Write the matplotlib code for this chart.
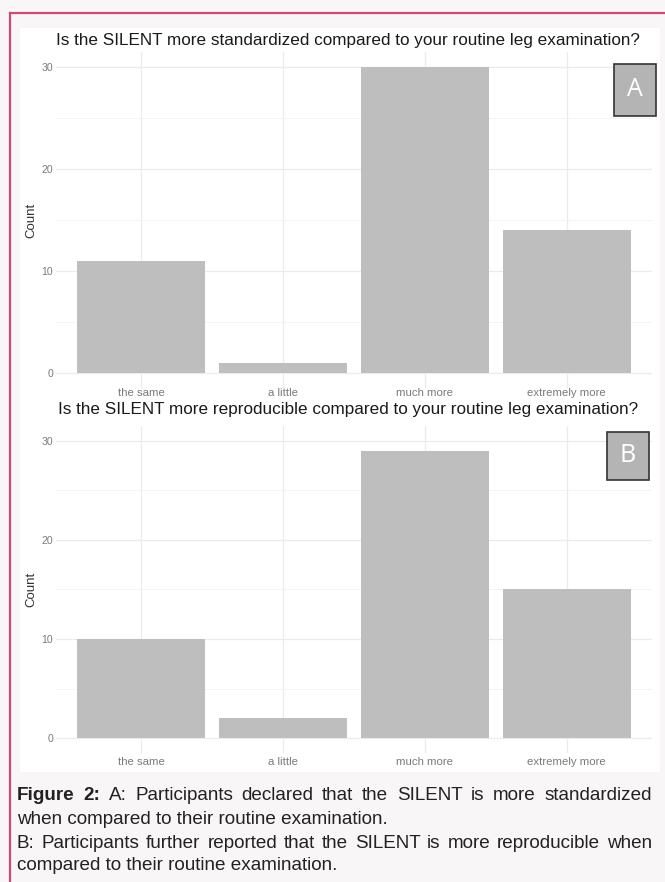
import matplotlib
matplotlib.use("Agg")
import matplotlib.pyplot as plt
from matplotlib.patches import Rectangle
from matplotlib.lines import Line2D

categories = ["the same", "a little", "much more", "extremely more"]
standardized = [11, 1, 30, 14]
reproducible = [10, 2, 29, 15]

titles = [
    "Is the SILENT more standardized compared to your routine leg examination?",
    "Is the SILENT more reproducible compared to your routine leg examination?",
]
panel_tags = ["A", "B"]

caption_lines = [
    ("Figure 2:", "A: Participants declared that the SILENT is more standardized", True),
    ("", "when compared to their routine examination.", False),
    ("", "B: Participants further reported that the SILENT is more reproducible when", True),
    ("", "compared to their routine examination.", False),
]

W, H = 665, 882
plt.rcParams["font.family"] = ["Liberation Sans", "DejaVu Sans"]

fig = plt.figure(figsize=(W / 100, H / 100), dpi=100)
fig.patch.set_facecolor("#f8f6f7")


def rect(x0, y0, x1, y1):
    # pixel box (top-left origin) -> figure fraction
    return [x0 / W, 1 - y1 / H, (x1 - x0) / W, (y1 - y0) / H]


# white area holding the two plots
fig.patches.append(Rectangle((20 / W, 1 - 772 / H), 640 / W, (772 - 28) / H,
                             transform=fig.transFigure, facecolor="white",
                             edgecolor="none", zorder=-5))
# page border (left and top)
fig.lines.append(Line2D([10 / W, 10 / W], [0, 1 - 13 / H], transform=fig.transFigure,
                        color="#d04a72", lw=1.6))
fig.lines.append(Line2D([10 / W, 1], [1 - 13 / H, 1 - 13 / H], transform=fig.transFigure,
                        color="#d04a72", lw=1.6))

panels = [
    dict(values=standardized, box=(56, 52, 652, 388), title_y=40, xpad=0,
         tag_box=(614, 64, 656, 116)),
    dict(values=reproducible, box=(56, 426, 652, 753), title_y=409, xpad=3,
         tag_box=(607, 432, 649, 480)),
]

for i, p in enumerate(panels):
    ax = fig.add_axes(rect(*p["box"]))
    ax.set_facecolor("none")
    x = range(len(categories))
    ax.bar(x, p["values"], width=0.9, color="#bebebe", zorder=2)
    ax.set_xlim(-0.6, len(categories) - 0.4)
    ax.set_ylim(-1.5, 31.5)
    ax.set_xticks(list(x))
    ax.set_xticklabels(categories)
    ax.set_yticks([0, 10, 20, 30])
    ax.set_yticks([5, 15, 25], minor=True)
    ax.grid(True, which="major", color="#ebebeb", lw=0.9, zorder=0)
    ax.grid(True, which="minor", axis="y", color="#f3f3f3", lw=0.7, zorder=0)
    for s in ax.spines.values():
        s.set_visible(False)
    ax.tick_params(axis="both", which="both", length=0, colors="#7a7a7a")
    ax.tick_params(axis="x", labelsize=8.2, pad=p["xpad"])
    ax.tick_params(axis="y", labelsize=7.6, pad=2)
    ax.set_ylabel("Count", fontsize=9.5, color="#333333", labelpad=3)

    fig.text(348 / W, 1 - p["title_y"] / H, titles[i], ha="center", va="center",
             fontsize=12.3, color="#1a1a1a")

    tx0, ty0, tx1, ty1 = p["tag_box"]
    fig.patches.append(Rectangle((tx0 / W, 1 - ty1 / H), (tx1 - tx0) / W, (ty1 - ty0) / H,
                                 transform=fig.transFigure, facecolor="#b4b4b4",
                                 edgecolor="#333333", lw=1.2, zorder=5))
    fig.text((tx0 + tx1) / 2 / W, 1 - (ty0 + ty1) / 2 / H, panel_tags[i],
             ha="center", va="center", fontsize=18, color="white",
             family=["Open Sans", "DejaVu Sans"], zorder=6)

# caption: paragraph lines are justified, last lines left as they are
renderer = fig.canvas.get_renderer()
left, right = 17, 652
line_y = [796, 819, 843, 866]
cap_size = 13.6
for (bold, rest, justify), y in zip(caption_lines, line_y):
    if not justify:
        fig.text(left / W, 1 - y / H, rest, ha="left", va="center",
                 fontsize=cap_size, color="#222222")
        continue
    words = [(w, "bold") for w in bold.split()] + [(w, "normal") for w in rest.split()]
    texts = [fig.text(0, 1 - y / H, w, ha="left", va="center", fontsize=cap_size,
                      fontweight=wt, color="#222222") for w, wt in words]
    widths = [t.get_window_extent(renderer).width for t in texts]
    gap = (right - left - sum(widths)) / (len(words) - 1)
    xpos = left
    for t, w in zip(texts, widths):
        t.set_x(xpos / W)
        xpos += w + gap

fig.savefig("out.png", dpi=100, facecolor=fig.get_facecolor())
